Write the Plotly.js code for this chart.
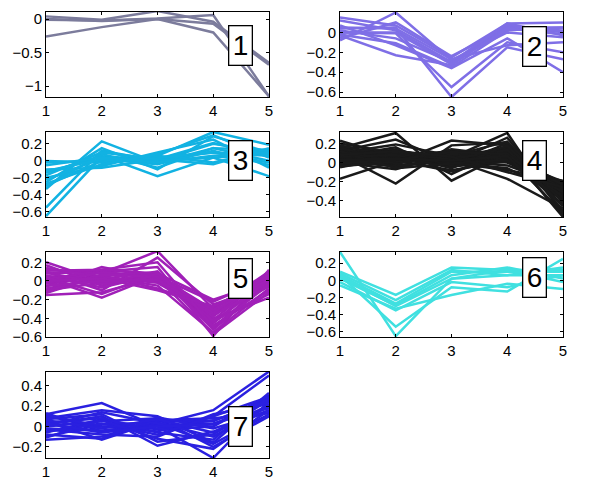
<!DOCTYPE html>
<html><head><meta charset="utf-8">
<script src="https://cdn.plot.ly/plotly-3.0.1.min.js"></script>
<style>html,body{margin:0;padding:0;background:#fff}#p{width:600px;height:484px}</style>
</head><body><div id="p"></div>
<script>
const xVals = [1, 2, 3, 4, 5];
const clusterLabels = ["1", "2", "3", "4", "5", "6", "7"];
const clusterColors = ["#7c7c9c", "#7f6fe6", "#12b2e2", "#1a1a1a", "#a020b8", "#40e0e0", "#2a20e0"];

const cluster1 = [
  [0.04, -0.01, 0.12, -0.04, -0.65],
  [-0.01, -0.02, 0.01, 0.06, -1.15],
  [-0.26, -0.12, 0.0, -0.2, -1.15],
  [0.0, -0.03, 0.0, -0.07, -0.68]
];
const cluster2 = [
  [0.15, 0.07, -0.25, 0.09, 0.1],
  [0.12, 0.02, -0.3, 0.05, 0.05],
  [-0.08, 0.2, -0.28, 0.0, -0.05],
  [0.04, 0.05, -0.65, -0.15, -0.27],
  [0.0, -0.01, -0.55, -0.1, -0.2],
  [-0.03, -0.23, -0.33, 0.07, 0.0],
  [0.07, -0.13, -0.36, -0.06, -0.4],
  [-0.06, 0.1, -0.24, 0.05, 0.02],
  [0.02, -0.06, -0.3, 0.09, -0.03],
  [-0.02, -0.11, -0.35, 0.02, 0.05],
  [0.05, 0.04, -0.27, -0.13, -0.1],
  [0.0, 0.0, -0.32, 0.04, -0.02]
];
const cluster3 = [
  [-0.65, 0.05, 0.02, 0.1, 0.06],
  [-0.55, 0.12, 0.0, 0.2, 0.1],
  [-0.33, 0.23, -0.02, 0.15, 0.13],
  [-0.29, 0.0, 0.06, 0.34, 0.19],
  [-0.25, 0.15, -0.1, 0.29, 0.1],
  [-0.2, -0.06, 0.1, 0.25, -0.08],
  [-0.14, 0.06, -0.18, 0.04, -0.18],
  [-0.1, -0.08, 0.02, 0.21, 0.06],
  [-0.02, 0.0, 0.06, -0.02, 0.13],
  [0.0, -0.02, 0.04, 0.1, -0.02],
  [-0.3, 0.08, -0.08, 0.15, 0.0],
  [-0.22, 0.03, 0.0, 0.04, 0.08],
  [-0.17, 0.1, 0.02, -0.04, 0.15],
  [-0.27, -0.04, 0.08, 0.3, 0.04],
  [-0.12, 0.02, -0.04, 0.12, -0.05],
  [-0.05, 0.04, -0.02, 0.06, 0.1]
];
const cluster4 = [
  [0.23, 0.05, 0.02, 0.12, -0.57],
  [0.2, 0.1, -0.03, 0.2, -0.52],
  [0.17, -0.05, 0.05, 0.31, -0.55],
  [0.15, 0.31, -0.19, 0.1, -0.45],
  [0.12, 0.24, 0.0, 0.26, -0.42],
  [0.1, 0.19, 0.07, 0.05, -0.38],
  [0.08, -0.22, 0.18, 0.21, -0.35],
  [0.06, 0.16, -0.12, 0.15, -0.3],
  [0.05, 0.0, 0.23, 0.18, -0.28],
  [0.03, 0.12, 0.04, 0.0, -0.25],
  [0.02, 0.08, -0.05, 0.09, -0.22],
  [0.0, -0.07, 0.1, 0.03, -0.2],
  [-0.02, 0.03, 0.0, -0.08, -0.19],
  [-0.05, 0.06, 0.12, 0.08, -0.33],
  [-0.17, 0.02, -0.08, 0.02, -0.4],
  [0.13, -0.03, 0.03, -0.17, -0.48],
  [0.09, 0.04, 0.08, 0.12, -0.26],
  [0.04, 0.1, -0.02, 0.06, -0.3],
  [0.11, 0.0, 0.06, 0.14, -0.36],
  [-0.03, 0.13, 0.02, -0.03, -0.24],
  [0.07, 0.02, -0.09, 0.04, -0.44],
  [0.01, 0.07, 0.05, 0.16, -0.5],
  [0.14, 0.09, 0.01, 0.1, -0.32],
  [0.16, -0.02, 0.14, 0.07, -0.27],
  [0.0, 0.05, 0.07, 0.22, -0.38],
  [0.05, 0.14, -0.04, 0.01, -0.21],
  [-0.04, 0.01, 0.09, 0.11, -0.29],
  [0.18, 0.06, 0.0, -0.06, -0.34],
  [0.02, -0.04, 0.04, 0.13, -0.46],
  [0.1, 0.11, 0.03, 0.05, -0.23],
  [0.06, 0.08, -0.06, 0.18, -0.41],
  [-0.01, 0.03, 0.11, 0.09, -0.36],
  [0.12, -0.06, -0.01, 0.03, -0.31],
  [0.08, 0.12, 0.06, -0.1, -0.26],
  [0.03, 0.04, 0.02, 0.07, -0.53]
];
const cluster5 = [
  [0.2, 0.0, 0.05, -0.45, 0.05],
  [0.17, -0.05, 0.1, -0.5, 0.0],
  [0.12, 0.08, 0.32, -0.3, 0.1],
  [0.1, -0.1, 0.25, -0.25, -0.05],
  [0.08, 0.1, 0.15, -0.59, 0.12],
  [0.05, 0.03, 0.0, -0.4, -0.18],
  [0.03, -0.18, 0.06, -0.35, 0.05],
  [0.0, 0.12, 0.08, -0.2, 0.0],
  [-0.03, 0.05, -0.05, -0.55, -0.08],
  [-0.06, 0.15, 0.03, -0.33, 0.03],
  [-0.1, -0.02, 0.09, -0.42, 0.08],
  [-0.13, 0.06, -0.08, -0.28, -0.03],
  [-0.15, -0.12, 0.04, -0.48, -0.1],
  [0.02, 0.1, 0.02, -0.38, 0.06],
  [0.06, -0.07, 0.07, -0.52, -0.02],
  [-0.08, 0.02, 0.1, -0.45, 0.02],
  [0.14, 0.04, -0.02, -0.36, -0.06],
  [-0.02, 0.09, 0.06, -0.31, 0.09],
  [0.09, -0.03, 0.03, -0.57, -0.12],
  [-0.11, 0.07, 0.05, -0.22, 0.04],
  [0.04, -0.14, 0.08, -0.43, -0.14],
  [-0.05, 0.0, 0.01, -0.34, 0.07],
  [0.11, 0.12, 0.2, -0.49, -0.04],
  [0.0, 0.03, -0.1, -0.27, 0.01]
];
const cluster6 = [
  [0.33, -0.65, 0.02, 0.06, 0.06],
  [0.06, -0.54, -0.08, -0.13, 0.25],
  [0.1, -0.17, 0.15, 0.12, 0.12],
  [0.02, -0.29, 0.06, 0.15, 0.02],
  [-0.06, -0.33, -0.17, -0.04, -0.1],
  [0.08, -0.23, 0.12, 0.06, 0.15],
  [-0.02, -0.35, -0.02, -0.08, 0.06],
  [0.04, -0.3, 0.02, 0.12, -0.02],
  [0.06, -0.27, 0.1, 0.1, 0.1]
];
const cluster7 = [
  [0.13, -0.05, 0.02, 0.16, 0.54],
  [0.1, 0.0, -0.05, 0.1, 0.5],
  [0.12, 0.23, 0.0, -0.31, 0.25],
  [0.08, 0.16, 0.1, -0.16, 0.31],
  [0.05, -0.13, 0.05, 0.05, 0.28],
  [0.02, 0.1, -0.19, -0.05, 0.16],
  [0.0, 0.05, 0.08, -0.2, 0.1],
  [-0.03, -0.08, -0.1, 0.12, 0.22],
  [-0.06, 0.07, -0.03, 0.0, 0.3],
  [-0.1, 0.02, 0.04, -0.1, 0.2],
  [-0.13, -0.1, 0.06, 0.08, 0.13],
  [0.07, 0.12, -0.15, -0.08, 0.26],
  [-0.02, -0.04, 0.01, 0.03, 0.18],
  [0.04, 0.08, -0.06, -0.13, 0.33],
  [-0.08, -0.12, 0.09, -0.02, 0.14],
  [0.11, 0.0, -0.02, 0.06, 0.24],
  [0.01, 0.14, 0.03, -0.17, 0.12],
  [-0.05, 0.03, -0.08, 0.1, 0.29],
  [0.06, -0.02, 0.07, -0.06, 0.21],
  [-0.11, 0.06, -0.12, -0.22, 0.16],
  [0.03, -0.06, 0.0, 0.02, 0.27]
];
const yRanges = [[-1.16, 0.105], [-0.65, 0.205], [-0.66, 0.34], [-0.57, 0.32], [-0.6, 0.31], [-0.66, 0.33], [-0.31, 0.535]];
const yTicks = [[-1, -0.5, 0], [-0.6, -0.4, -0.2, 0], [-0.6, -0.4, -0.2, 0, 0.2], [-0.4, -0.2, 0, 0.2], [-0.6, -0.4, -0.2, 0, 0.2], [-0.6, -0.4, -0.2, 0, 0.2], [-0.2, 0, 0.2, 0.4]];
const labelY = [0.61, 0.594, 0.66, 0.66, 0.69, 0.70, 0.37];

const clusters = [cluster1, cluster2, cluster3, cluster4, cluster5, cluster6, cluster7];
const xDomains = [[0.0767, 0.4483], [0.5667, 0.9383]];
const yDomains = [[0.7996, 0.9752], [0.5517, 0.7273], [0.3037, 0.4793], [0.0537, 0.2314]];

const traces = [];
const layout = {
  width: 600, height: 484, margin: {l: 0, r: 0, t: 0, b: 0},
  paper_bgcolor: "#fff", plot_bgcolor: "#fff", showlegend: false,
  font: {family: "Liberation Sans, Arial, sans-serif", size: 15, color: "#000"},
  annotations: []
};
clusters.forEach((cl, i) => {
  const n = i + 1;
  const xa = "x" + (n === 1 ? "" : n), ya = "y" + (n === 1 ? "" : n);
  cl.forEach(row => traces.push({
    x: xVals, y: row, xaxis: xa, yaxis: ya, type: "scatter", mode: "lines",
    line: {color: clusterColors[i], width: 2.5}, hoverinfo: "skip", cliponaxis: true
  }));
  const col = i % 2, row = Math.floor(i / 2);
  const axCommon = {
    showline: true, linecolor: "#000", linewidth: 1, mirror: "allticks",
    ticks: "inside", ticklen: 3, tickcolor: "#000", showgrid: false, zeroline: false,
    tickfont: {size: 15, color: "#000"}, fixedrange: true
  };
  layout["xaxis" + (n === 1 ? "" : n)] = Object.assign({}, axCommon, {
    domain: xDomains[col], range: [1, 5], tickvals: xVals, anchor: ya
  });
  layout["yaxis" + (n === 1 ? "" : n)] = Object.assign({}, axCommon, {
    domain: yDomains[row], range: yRanges[i], tickvals: yTicks[i], anchor: xa
  });
  layout.annotations.push({
    text: clusterLabels[i], xref: xa, yref: ya + " domain", x: 4.48, y: labelY[i],
    xanchor: "center", yanchor: "middle", showarrow: false,
    bgcolor: "#fff", bordercolor: "#000", borderwidth: 1.3, borderpad: 3.5,
    font: {size: 28, color: "#000"}
  });
});
Plotly.newPlot("p", traces, layout, {staticPlot: true});
</script>
</body></html>
